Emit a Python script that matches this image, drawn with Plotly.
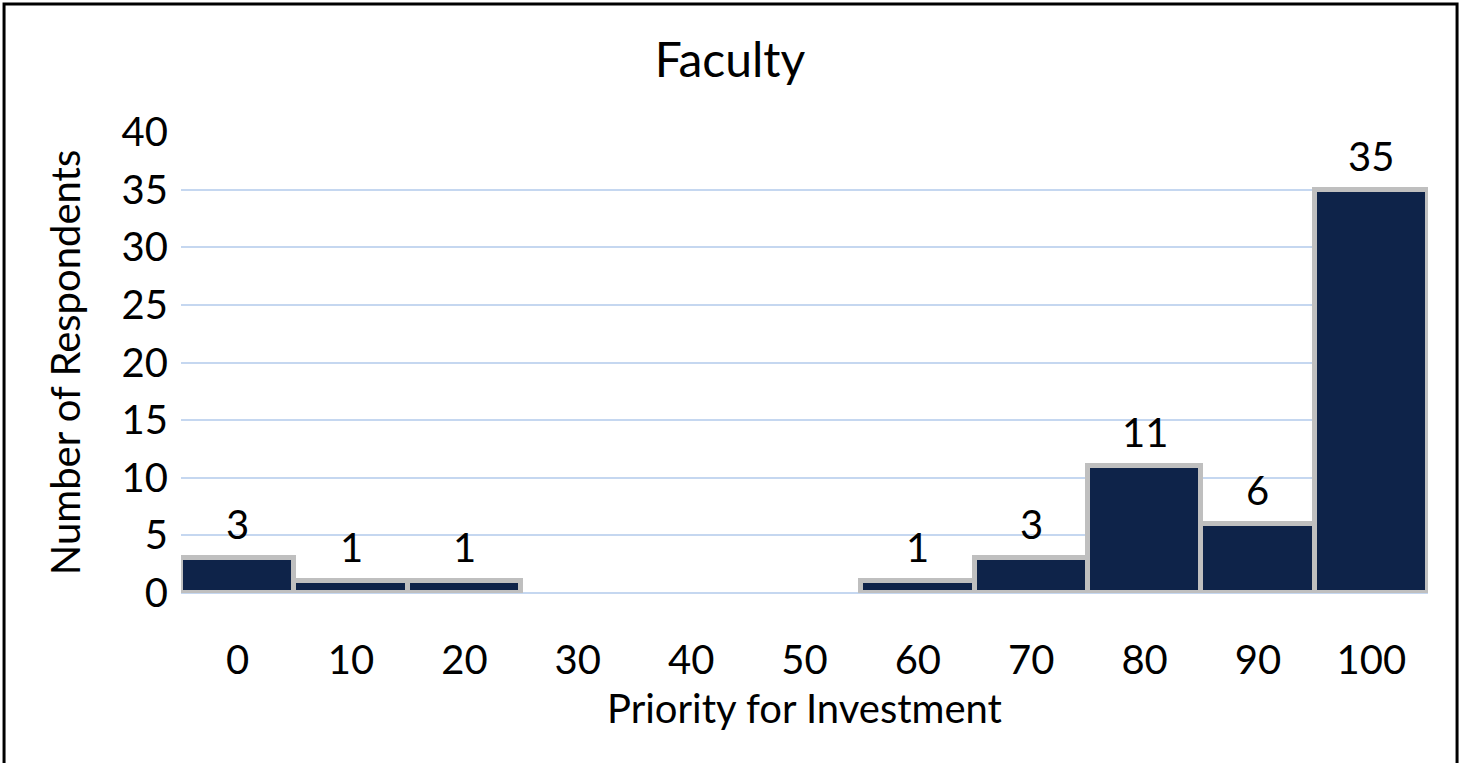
import plotly.graph_objects as go

priority = [0, 10, 20, 30, 40, 50, 60, 70, 80, 90, 100]
respondents = [3, 1, 1, 0, 0, 0, 1, 3, 11, 6, 35]
y_ticks = [0, 5, 10, 15, 20, 25, 30, 35, 40]

FONT = "Lato, Open Sans, sans-serif"

# empty bins show no outline, only the baseline gridline
outline_widths = [5 if v > 0 else 0 for v in respondents]

fig = go.Figure(go.Bar(
    x=priority,
    y=respondents,
    width=10,
    marker=dict(color="#0e2349", line=dict(color="#bfbfbf", width=outline_widths)),
    hoverinfo="x+y",
))

for p, val in zip(priority, respondents):
    if val > 0:
        fig.add_annotation(
            x=p, y=val, text=str(val), showarrow=False,
            yanchor="bottom", yshift=8,
            font=dict(size=40, color="#000000", family=FONT),
        )

fig.update_layout(
    width=1460,
    height=763,
    margin=dict(l=181, r=32, t=132, b=170),
    paper_bgcolor="white",
    plot_bgcolor="white",
    bargap=0,
    showlegend=False,
    font=dict(family=FONT, size=40, color="#000000"),
    title=dict(text="Faculty", x=0.5, xanchor="center", y=0.921, yanchor="middle",
               font=dict(size=48)),
    xaxis=dict(
        title=dict(text="Priority for Investment", font=dict(size=40), standoff=12),
        range=[-5, 105],
        tickvals=priority,
        ticktext=[str(p) for p in priority],
        tickangle=0,
        showgrid=False,
        showline=False,
        zeroline=False,
        ticks="",
        ticklabelstandoff=40,
        tickfont=dict(size=40),
    ),
    yaxis=dict(
        title=dict(text="Number of Respondents", font=dict(size=40), standoff=28),
        range=[0, 40],
        tickvals=y_ticks,
        showgrid=True,
        gridcolor="#c5d7f0",
        gridwidth=1.5,
        zeroline=True,
        zerolinecolor="#c5d7f0",
        zerolinewidth=1.5,
        showline=False,
        ticks="",
        ticklabelstandoff=12,
        tickfont=dict(size=40),
    ),
    shapes=[dict(
        type="rect", xref="paper", yref="paper",
        x0=-0.1419, x1=1.0233, y0=-0.45, y1=1.2777,
        line=dict(color="#000000", width=3),
        fillcolor="rgba(0,0,0,0)",
        layer="above",
    )],
)

fig.write_html("out.html", config={"displayModeBar": False},
               post_script="document.body.style.margin='0';")
